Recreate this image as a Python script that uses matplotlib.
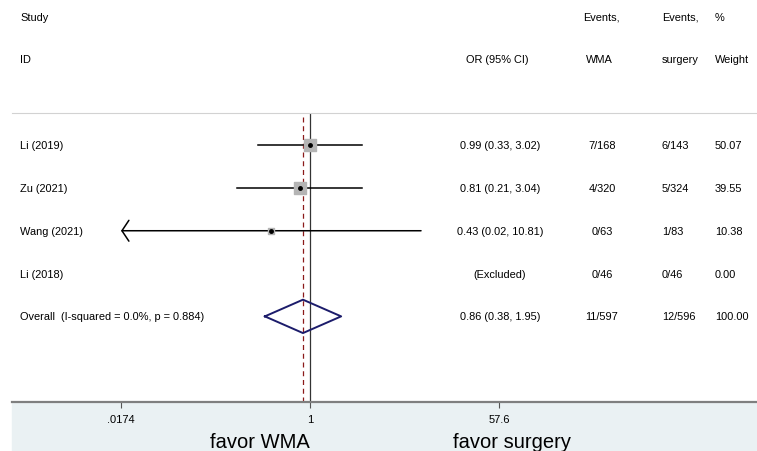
import numpy as np
import matplotlib
matplotlib.use('Agg')
import matplotlib.pyplot as plt
from matplotlib.patches import Rectangle
from matplotlib.ticker import NullLocator
from matplotlib.transforms import blended_transform_factory

plt.rcParams['font.family'] = ['Liberation Sans', 'DejaVu Sans']

# study level data
studies = ['Li (2019)', 'Zu (2021)', 'Wang (2021)', 'Li (2018)']
odds_ratio = [0.99, 0.81, 0.43, np.nan]
ci_low = [0.33, 0.21, 0.017, np.nan]
ci_high = [3.02, 3.04, 10.81, np.nan]
events_wma = ['7/168', '4/320', '0/63', '0/46']
events_surgery = ['6/143', '5/324', '1/83', '0/46']
weights = [50.07, 39.55, 10.38, 0.00]

# pooled estimate
overall_label = 'Overall  (I-squared = 0.0%, p = 0.884)'
overall_or = 0.86
overall_low = 0.38
overall_high = 1.95
overall_wma = '11/597'
overall_surgery = '12/596'
overall_weight = 100.00

tick_values = [0.0174, 1, 57.6]
tick_labels = ['.0174', '1', '57.6']

# layout in pixels
W, H = 757, 452
left, right, top, bottom = 12, 757, 114, 403
x_one = 310        # pixel where OR = 1 sits
px_per_dec = 107.4 # pixels per decade on the log axis

fig = plt.figure(figsize=(W / 100, H / 100), dpi=100)
ax = fig.add_axes([left / W, 1 - bottom / H, (right - left) / W, (bottom - top) / H])
ax.set_xscale('log')
ax.set_xlim(10 ** ((left - x_one) / px_per_dec), 10 ** ((right - x_one) / px_per_dec))
ax.set_ylim(6.0, -0.75)

# light band under the axis
fig.add_artist(Rectangle((left / W, 0), (right - left) / W, 1 - bottom / H,
                         transform=fig.transFigure, color='#eaf1f3', zorder=-1))

for side in ['left', 'right']:
    ax.spines[side].set_visible(False)
ax.spines['top'].set_color('#d2d2d2')
ax.spines['top'].set_linewidth(0.8)
ax.spines['bottom'].set_color('#7f7f7f')
ax.spines['bottom'].set_linewidth(1.6)

ax.set_xticks(tick_values, tick_labels)
ax.xaxis.set_minor_locator(NullLocator())
ax.tick_params(axis='x', length=4.5, width=0.8, color='#555555', pad=4.5, labelsize=8)
ax.set_yticks([])

# reference lines
ax.axvline(1, color='#333333', lw=0.9, zorder=1)
ax.axvline(overall_or, color='#8b1a1a', lw=0.9, ls=(0, (4, 3)), zorder=1)

# study rows
for i in range(len(studies)):
    if np.isnan(odds_ratio[i]):
        continue
    if ci_low[i] < tick_values[0]:
        # interval runs off the scale: draw an arrow
        ax.annotate('', xy=(tick_values[0], i), xytext=(ci_high[i], i),
                    arrowprops=dict(arrowstyle='->,head_length=0.5,head_width=0.75',
                                    color='black', lw=1.1, shrinkA=0, shrinkB=0))
    else:
        ax.plot([ci_low[i], ci_high[i]], [i, i], color='black', lw=1.1, zorder=2)
    ax.scatter(odds_ratio[i], i, s=1.65 * weights[i], marker='s', color='#b4b4b4', zorder=3)
    ax.plot(odds_ratio[i], i, 'o', ms=2.5, color='black', zorder=4)

# overall diamond
oy = len(studies)
ax.plot([overall_low, overall_or, overall_high, overall_or, overall_low],
        [oy, oy - 0.39, oy, oy + 0.39, oy], color='#1c1c6b', lw=1.4, zorder=3)

# text columns
trans = blended_transform_factory(ax.transAxes, ax.transData)

def fx(px):
    return (px - left) / (right - left)

def put(px, y, s, ha='left'):
    ax.text(fx(px), y, s, transform=trans, ha=ha, va='center', fontsize=7.9, clip_on=False)

put(20, -3, 'Study')
put(20, -2, 'ID')
put(497, -2, 'OR (95% CI)', ha='center')
put(601, -3, 'Events,', ha='center')
put(599, -2, 'WMA', ha='center')
put(662, -3, 'Events,')
put(662, -2, 'surgery')
put(715, -3, '%')
put(715, -2, 'Weight')

for i, name in enumerate(studies):
    put(20, i, name)
    if np.isnan(odds_ratio[i]):
        ci_text = '(Excluded)'
    else:
        ci_text = f'{odds_ratio[i]:.2f} ({ci_low[i]:.2f}, {ci_high[i]:.2f})'
    put(500, i, ci_text, ha='center')
    put(602, i, events_wma[i], ha='center')
    put(662, i, events_surgery[i])
    put(715, i, f'{weights[i]:.2f}')

put(20, oy, overall_label)
put(500, oy, f'{overall_or:.2f} ({overall_low:.2f}, {overall_high:.2f})', ha='center')
put(602, oy, overall_wma, ha='center')
put(662, oy, overall_surgery)
put(715, oy, f'{overall_weight:.2f}')

# favour labels under the axis
yb = -(448 - bottom) / (bottom - top)
ax.text(fx(260), yb, 'favor WMA', transform=ax.transAxes, ha='center', va='baseline', fontsize=14.5)
ax.text(fx(512), yb, 'favor surgery', transform=ax.transAxes, ha='center', va='baseline', fontsize=14.5)

fig.savefig('out.png', dpi=100)
